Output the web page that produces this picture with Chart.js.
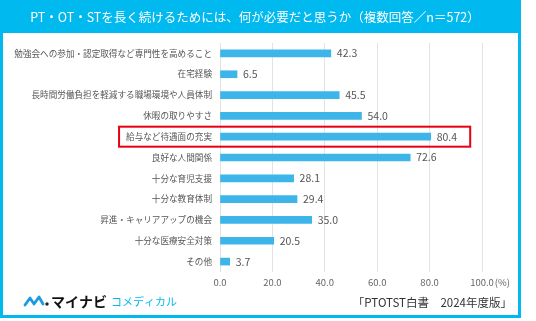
<!DOCTYPE html>
<html lang="ja">
<head>
<meta charset="utf-8">
<script src="https://cdn.jsdelivr.net/npm/chart.js@4"></script>
<style>
  html, body { margin: 0; padding: 0; background: #fff; }
  #wrap { width: 536px; height: 321px; position: relative; }
</style>
</head>
<body>
<div id="wrap"><canvas id="barChart"></canvas></div>
<script>
// 項目と回答率（%）
const categories = [
    '勉強会への参加・認定取得など専門性を高めること',
    '在宅経験',
    '長時間労働負担を軽減する職場環境や人員体制',
    '休暇の取りやすさ',
    '給与など待遇面の充実',
    '良好な人間関係',
    '十分な育児支援',
    '十分な教育体制',
    '昇進・キャリアアップの機会',
    '十分な医療安全対策',
    'その他'
];
const values = [42.3, 6.5, 45.5, 54.0, 80.4, 72.6, 28.1, 29.4, 35.0, 20.5, 3.7];
const xTicks = [0, 20, 40, 60, 80, 100];
const highlightIndex = 4;

const titleText = 'PT・OT・STを長く続けるためには、何が必要だと思うか（複数回答／n＝572）';
const sourceText = '「PTOTST白書　2024年度版」';

const FONT = '"Noto Sans CJK JP", "Noto Sans", sans-serif';
const CYAN = '#00b9ef';
const BAR = '#3db5e8';

// 枠とタイトル帯
const framePlugin = {
    id: 'frame',
    beforeDraw(chart) {
        const c = chart.ctx;
        c.save();
        c.fillStyle = '#fff';
        c.fillRect(0, 0, chart.width, chart.height);
        c.fillStyle = CYAN;
        c.fillRect(0, 0, 521, 318);
        c.fillStyle = '#fff';
        c.fillRect(3, 33, 515, 282);
        c.fillStyle = '#fff';
        c.font = '12.5px ' + FONT;
        c.textAlign = 'center';
        c.textBaseline = 'middle';
        c.fillText(titleText, 255, 17);
        c.restore();
    }
};

// 値ラベル・強調枠・単位・フッター
const overlayPlugin = {
    id: 'overlay',
    afterDatasetsDraw(chart) {
        const c = chart.ctx;
        const xs = chart.scales.x;
        const ys = chart.scales.y;
        const meta = chart.getDatasetMeta(0);
        c.save();
        c.font = '10.5px ' + FONT;
        c.fillStyle = '#555';
        c.textAlign = 'left';
        c.textBaseline = 'middle';
        meta.data.forEach((bar, i) => {
            c.fillText(values[i].toFixed(1), bar.x + 6, bar.y);
        });

        // 強調枠
        c.font = '8.6px ' + FONT;
        const labelW = c.measureText(categories[highlightIndex]).width;
        const cy = ys.getPixelForValue(highlightIndex);
        const left = xs.left - 7 - labelW - 8;
        const right = xs.getPixelForValue(95.5);
        c.strokeStyle = '#e60012';
        c.lineWidth = 2;
        c.strokeRect(left, cy - 10, right - left, 20);

        // 単位
        c.font = '9.5px ' + FONT;
        c.fillStyle = '#666';
        const hw = c.measureText('100.0').width / 2;
        c.fillText('(%)', xs.getPixelForValue(100) + hw + 1, xs.top + 10);

        // 出典
        c.font = '11.5px ' + FONT;
        c.fillStyle = '#333';
        c.textAlign = 'right';
        c.fillText(sourceText, 512, 303);

        // ロゴ
        c.strokeStyle = '#1e9be0';
        c.lineWidth = 2.8;
        c.lineJoin = 'round';
        c.lineCap = 'round';
        c.beginPath();
        c.moveTo(25, 305);
        c.lineTo(30, 298);
        c.lineTo(34, 304);
        c.lineTo(39, 297);
        c.lineTo(43, 304);
        c.stroke();
        c.fillStyle = '#222';
        c.beginPath();
        c.arc(47, 304, 1.7, 0, Math.PI * 2);
        c.fill();
        c.textAlign = 'left';
        c.font = 'bold 14px ' + FONT;
        c.fillStyle = '#111';
        c.fillText('マイナビ', 51, 302);
        c.font = '11px ' + FONT;
        c.fillStyle = CYAN;
        c.fillText('コメディカル', 111, 302);
        c.restore();
    }
};

const ctxBar = document.getElementById('barChart').getContext('2d');
const barChart = new Chart(ctxBar, {
    type: 'bar',
    data: {
        labels: categories,
        datasets: [{
            data: values,
            backgroundColor: BAR,
            barThickness: 7
        }]
    },
    options: {
        indexAxis: 'y',
        responsive: true,
        maintainAspectRatio: false,
        animation: false,
        layout: { padding: { top: 43, right: 54, bottom: 29, left: 0 } },
        plugins: {
            legend: { display: false },
            tooltip: { enabled: false }
        },
        scales: {
            x: {
                min: 0,
                max: 100,
                afterFit(scale) { scale.height = 20; },
                afterBuildTicks(scale) { scale.ticks = xTicks.map(v => ({ value: v })); },
                grid: { color: '#e3e3e3', drawTicks: false },
                border: { display: false },
                ticks: {
                    padding: 5,
                    color: '#666',
                    font: { family: FONT, size: 9.5 },
                    callback: v => v.toFixed(1)
                }
            },
            y: {
                afterFit(scale) { scale.width = 220; },
                grid: { display: false },
                border: { display: false },
                ticks: {
                    padding: 0,
                    color: '#555',
                    font: { family: FONT, size: 8.6 }
                }
            }
        }
    },
    plugins: [framePlugin, overlayPlugin]
});
</script>
</body>
</html>
